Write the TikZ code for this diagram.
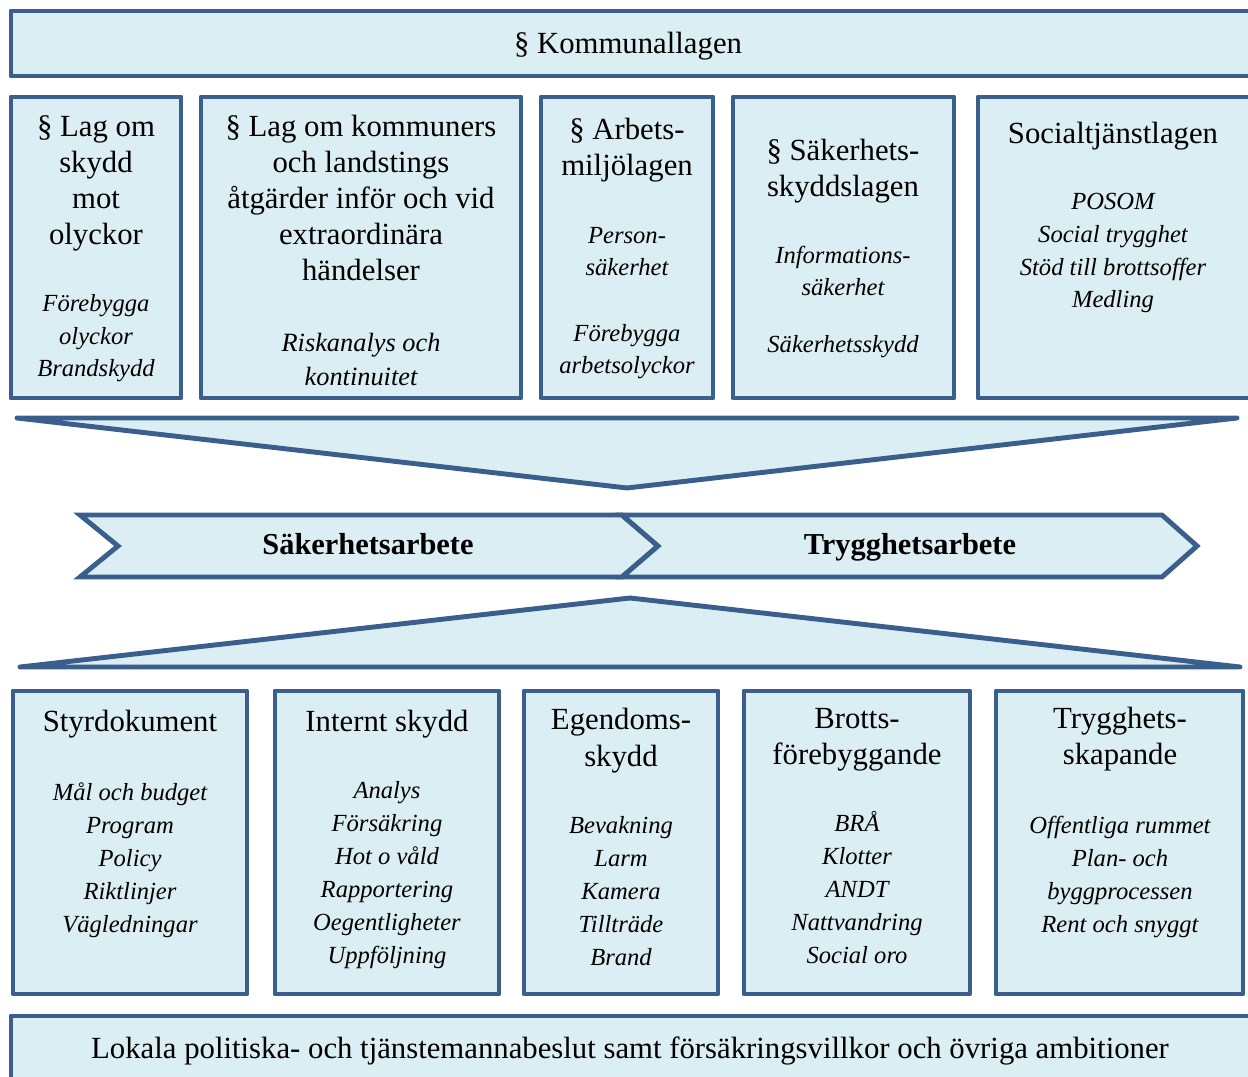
\documentclass[tikz,border=0pt]{standalone}
\usepackage{fontspec}
\setmainfont{Liberation Serif}
\definecolor{panelfill}{HTML}{DAEEF3}
\definecolor{panelline}{HTML}{3A5F8C}
\begin{document}
\begin{tikzpicture}[x=0.02cm,y=-0.02cm,
        panel/.style={draw=panelline,fill=panelfill,line width=2.8pt,line join=round,line cap=round},
        head/.style={font=\fontsize{17.5}{20.5}\selectfont,align=center,anchor=base,inner sep=0pt},
        itl/.style={font=\fontsize{14}{18.7}\selectfont\itshape,align=center,anchor=base,inner sep=0pt},
        bold/.style={font=\fontsize{17.3}{20}\selectfont\bfseries,anchor=base,inner sep=0pt}]
    \useasboundingbox (0,0) rectangle (1248,1077);
    % top and bottom bars (anchored at the last baseline of each text)
    \draw[panel] (1270,11) -- (11,11) -- (11,76) -- (1270,76);
    \fill[panelfill] (11,1016) rectangle (1270,1100);
    \draw[panel] (1270,1016) -- (11,1016) -- (11,1100);
    \node[head] (kommunal) at (628,54) {§ Kommunallagen};
    \node[head] (lokala) at (630,1058) {Lokala politiska- och tjänstemannabeslut samt försäkringsvillkor och övriga ambitioner};
    % upper row of laws
    \foreach \xa/\xb in {11/181, 201/521, 541/713, 733/954}
    {
        \draw[panel] (\xa,97) rectangle (\xb,398);
    }
    \draw[panel] (1270,97) -- (978,97) -- (978,398) -- (1270,398);
    \node[head] (lso) at (96,245) {§ Lag om\\skydd\\mot\\olyckor};
    \node[itl] (lsoitems) at (96,377) {Förebygga\\olyckor\\Brandskydd};
    \node[head] (lek) at (361,281) {§ Lag om kommuners\\och landstings\\åtgärder inför och vid\\extraordinära\\händelser};
    \node[itl,font=\fontsize{15}{19.8}\selectfont\itshape] (lekitems) at (361,386) {Riskanalys och\\kontinuitet};
    \node[head] (aml) at (627,176) {§ Arbets-\\miljölagen};
    \node[itl] (amlitems) at (627,276) {Person-\\säkerhet};
    \node[itl] (amlitems2) at (627,374) {Förebygga\\arbetsolyckor};
    \node[head] (ssl) at (843,197) {§ Säkerhets-\\skyddslagen};
    \node[itl] (sslitems) at (843,296) {Informations-\\säkerhet};
    \node[itl] (sslitems2) at (843,353) {Säkerhetsskydd};
    \node[head] (sol) at (1113,144) {Socialtjänstlagen};
    \node[itl] (solitems) at (1113,308) {POSOM\\Social trygghet\\Stöd till brottsoffer\\Medling};
    % funnels
    \draw[panel] (17,418) -- (1237,418) -- (627,488) -- cycle;
    \draw[panel] (20,667) -- (1240,667) -- (630,598) -- cycle;
    % chevrons
    \draw[panel,line join=miter] (80,515) -- (622,515) -- (658,546) -- (622,577) -- (80,577) -- (118,546) -- cycle;
    \draw[panel,line join=miter] (622,515) -- (1162,515) -- (1197,546) -- (1162,577) -- (622,577) -- (658,546) -- cycle;
    \node[bold] (sakerhet) at (368,555) {Säkerhetsarbete};
    \node[bold] (trygghet) at (910,555) {Trygghetsarbete};
    % lower row of areas
    \foreach \xa/\xb in {13/247, 275/499, 524/718, 744/970, 996/1243}
    {
        \draw[panel] (\xa,691) rectangle (\xb,994);
    }
    \node[head] (styr) at (130,731) {Styrdokument};
    \node[itl] (styritems) at (130,932) {Mål och budget\\Program\\Policy\\Riktlinjer\\Vägledningar};
    \node[head] (internt) at (387,731) {Internt skydd};
    \node[itl] (interntitems) at (387,963) {Analys\\Försäkring\\Hot o våld\\Rapportering\\Oegentligheter\\Uppföljning};
    \node[head] (egendom) at (621,766) {Egendoms-\\skydd};
    \node[itl] (egendomitems) at (621,965) {Bevakning\\Larm\\Kamera\\Tillträde\\Brand};
    \node[head] (brott) at (857,765) {Brotts-\\förebyggande};
    \node[itl] (brottitems) at (857,963) {BRÅ\\Klotter\\ANDT\\Nattvandring\\Social oro};
    \node[head] (trygg) at (1120,765) {Trygghets-\\skapande};
    \node[itl] (tryggitems) at (1120,932) {Offentliga rummet\\Plan- och\\byggprocessen\\Rent och snyggt};
\end{tikzpicture}
\end{document}
